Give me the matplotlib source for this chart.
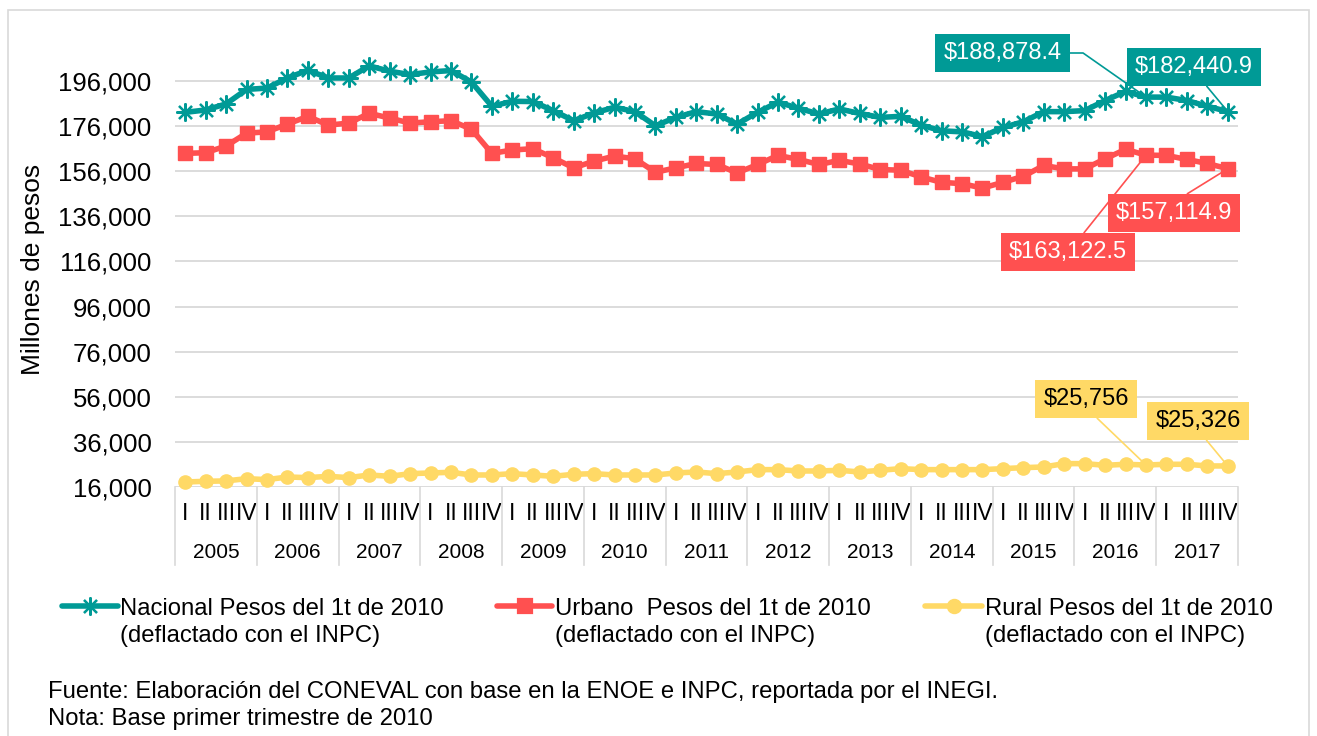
import matplotlib
matplotlib.use("Agg")
import matplotlib.pyplot as plt
from matplotlib.lines import Line2D
from matplotlib.patches import Rectangle
from matplotlib.ticker import FuncFormatter

plt.rcParams['font.family'] = ['Liberation Sans', 'DejaVu Sans']

years = ['2005', '2006', '2007', '2008', '2009', '2010', '2011', '2012',
         '2013', '2014', '2015', '2016', '2017']
quarters = ['I', 'II', 'III', 'IV']

nacional = [182100, 183160, 185850, 192270, 192870, 197340, 200780, 197340,
            197340, 202720, 200330, 198840, 200030, 200630, 195550, 184810,
            187000, 186900, 182870, 178390, 181820, 184360, 182420, 176150,
            179880, 182420, 181370, 176900, 182120, 186600, 183910, 181370,
            183610, 181600, 179880, 180330, 176450, 173910, 173460, 171370,
            175400, 177940, 182420, 182420, 182870, 187340, 191370, 188878.4,
            188840, 187340, 184810, 182440.9]
urbano = [163910, 164210, 167190, 172870, 173460, 176900, 180330, 176450,
          177340, 181670, 179580, 177340, 177940, 178390, 174660, 163910,
          165400, 166000, 161970, 157490, 160480, 162720, 161520, 155550,
          157490, 159430, 158990, 155250, 158990, 163010, 161220, 158990,
          160800, 159200, 156750, 156450, 153460, 151070, 150480, 148540,
          151070, 153760, 158540, 157040, 157040, 161520, 165700, 163122.5,
          163010, 161220, 159430, 157114.9]
rural = [18220, 18520, 18700, 19700, 19260, 20440, 20150, 20740,
         20150, 21330, 20740, 21920, 22220, 22520, 21330, 21330,
         21920, 21330, 20740, 21630, 21920, 21330, 21330, 21330,
         22220, 22660, 21920, 22660, 23700, 23700, 23100, 23100,
         23400, 22660, 23400, 24140, 23700, 23700, 23700, 23700,
         24140, 24580, 24880, 26360, 26360, 25620, 26070, 25756,
         26070, 26070, 25330, 25326]

legend_l1 = ['Nacional Pesos del 1t de 2010', 'Urbano  Pesos del 1t de 2010',
             'Rural Pesos del 1t de 2010']
legend_l2 = '(deflactado con el INPC)'
yticks = list(range(16000, 196001, 20000))

TEAL = '#009A96'
RED = '#FF5050'
YEL = '#FFD966'
GRID = '#D9D9D9'

W, H = 1317, 736
fig = plt.figure(figsize=(W / 100, H / 100), dpi=100)
fig.patch.set_facecolor('white')

def fx(px):
    return px / W

def fy(py):
    return 1 - py / H

ax_top = 58.45
ax_h = 487 - ax_top
ax = fig.add_axes([fx(175), fy(487), fx(1238) - fx(175), ax_h / H])
n = len(nacional)
x = list(range(n))
ax.set_xlim(-0.5, n - 0.5)
ax.set_ylim(16000, 206000)

for s in ax.spines.values():
    s.set_visible(False)
ax.set_yticks(yticks)
ax.yaxis.set_major_formatter(FuncFormatter(lambda v, p: f'{int(v):,}'))
ax.tick_params(axis='y', length=0, pad=17, labelsize=18.5, labelcolor='#000000')
ax.grid(axis='y', color=GRID, lw=1.3)
ax.set_axisbelow(True)

# quarter tick labels
ax.set_xticks(x)
ax.set_xticklabels([quarters[i % 4] for i in x])
ax.tick_params(axis='x', length=0, pad=11, labelsize=16.5)

# category separators and year labels
sep_depth = (565 - 487) / ax_h
for k in range(len(years) + 1):
    ax.add_line(Line2D([-0.5 + 4 * k] * 2, [0, -sep_depth], transform=ax.get_xaxis_transform(),
                       color=GRID, lw=1.2, clip_on=False))
for k, yr in enumerate(years):
    ax.text(1.5 + 4 * k, -(558 - 487) / ax_h, yr, transform=ax.get_xaxis_transform(),
            ha='center', va='baseline', fontsize=15)

ax.plot(x, nacional, color=TEAL, lw=4, marker=(8, 2, 0), markersize=13, mew=1.6,
        mec=TEAL, clip_on=False, zorder=5)
ax.plot(x, urbano, color=RED, lw=4, marker='s', markersize=10, mec=RED, mfc=RED,
        clip_on=False, zorder=5)
ax.plot(x, rural, color=YEL, lw=4, marker='o', markersize=9.5, mec=YEL, mfc=YEL,
        clip_on=False, zorder=5)

# data labels
def label(idx, series, text, cx, cy, fc, tc, lc, relpos, conn='arc3'):
    ax.annotate(text, xy=(idx, series[idx]), xycoords='data',
                xytext=(cx, H - cy), textcoords='figure pixels',
                ha='center', va='center', fontsize=17, color=tc,
                bbox=dict(boxstyle='square,pad=0.35', fc=fc, ec='none'),
                arrowprops=dict(arrowstyle='-', color=lc, lw=1.2, shrinkA=0, shrinkB=2,
                                relpos=relpos, connectionstyle=conn),
                annotation_clip=False, zorder=8)

label(47, nacional, '$188,878.4', 1002.5, 53, TEAL, 'white', TEAL, (1, 0.5),
      'angle,angleA=0,angleB=145,rad=0')
label(51, nacional, '$182,440.9', 1194, 67, TEAL, 'white', TEAL, (0.55, 0))
label(47, urbano, '$163,122.5', 1068, 252, RED, 'white', RED, (0.58, 1))
label(51, urbano, '$157,114.9', 1174, 213, RED, 'white', RED, (0.5, 1))
label(47, rural, '$25,756', 1086, 399, YEL, 'black', YEL, (0.53, 0))
label(51, rural, '$25,326', 1198, 421, YEL, 'black', YEL, (0.52, 0))

# y-axis title
fig.text(fx(33), fy(269), 'Millones de pesos', rotation=90, ha='center', va='center',
         fontsize=19)

# legend (manual)
leg = [(62, 118, 120, TEAL, (8, 2, 0), 13),
       (497, 552, 555, RED, 's', 10),
       (925, 982, 985, YEL, 'o', 9.5)]
for (x0, x1, tx, col, mk, ms), t1 in zip(leg, legend_l1):
    fig.add_artist(Line2D([fx(x0), fx(x1)], [fy(606)] * 2, transform=fig.transFigure,
                          color=col, lw=4, solid_capstyle='round'))
    fig.add_artist(Line2D([fx((x0 + x1) / 2)], [fy(606)], transform=fig.transFigure,
                          color=col, marker=mk, markersize=ms, mec=col, mfc=col, mew=1.6))
    fig.text(fx(tx), fy(615), t1, ha='left', va='baseline', fontsize=17.2)
    fig.text(fx(tx), fy(642), legend_l2, ha='left', va='baseline', fontsize=17.2)

# footer
fig.text(fx(48), fy(698), 'Fuente: Elaboración del CONEVAL con base en la ENOE e INPC, reportada por el INEGI.',
         ha='left', va='baseline', fontsize=17.2)
fig.text(fx(48), fy(725), 'Nota: Base primer trimestre de 2010', ha='left', va='baseline', fontsize=17.2)

# outer border
fig.add_artist(Rectangle((fx(7.5), -0.01), fx(1309) - fx(7.5), fy(10) + 0.01,
                         transform=fig.transFigure, fill=False, ec=GRID, lw=1.2))

fig.savefig('out.png', dpi=100)
